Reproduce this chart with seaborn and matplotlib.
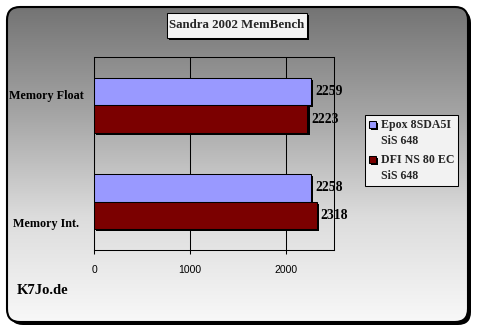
import numpy as np
import pandas as pd
import matplotlib
matplotlib.use("Agg")
import matplotlib.pyplot as plt
import seaborn as sns
from matplotlib.patches import FancyBboxPatch, Rectangle
from matplotlib.colors import LinearSegmentedColormap
from matplotlib.transforms import blended_transform_factory, offset_copy
from matplotlib.legend_handler import HandlerPatch
import matplotlib.patheffects as pe

# ---- data ----
categories = ["Memory Float", "Memory Int."]
series = ["Epox 8SDA5I\nSiS 648", "DFI NS 80 EC\nSiS 648"]
epox_values = [2259, 2258]
dfi_values = [2223, 2318]
x_ticks = [0, 1000, 2000]
title_text = "Sandra 2002 MemBench"
credit_text = "K7Jo.de"

# ---- style ----
colors = ["#9999FF", "#7B0000"]
label_dy = [9, -22]  # vertical pixel offsets of category labels

df = pd.DataFrame({
    "category": categories * 2,
    "system": [series[0]] * len(categories) + [series[1]] * len(categories),
    "value": epox_values + dfi_values,
})

sns.set_theme(style="white")
plt.rcParams["font.family"] = ["Liberation Serif", "DejaVu Serif"]

W, H = 478, 333
fig = plt.figure(figsize=(W / 100, H / 100), dpi=100)
fig.patch.set_facecolor("white")

# background frame with gradient
bg = fig.add_axes([0, 0, 1, 1])
bg.axis("off")
shadow = FancyBboxPatch((10, 10), 461, 315, boxstyle="round,pad=0,rounding_size=13",
                        fc="black", ec="none", zorder=0)
bg.add_patch(shadow)
box = FancyBboxPatch((7, 7), 461, 315, boxstyle="round,pad=0,rounding_size=13",
                     fc="none", ec="black", lw=1.5, zorder=3)
bg.add_patch(box)
cmap = LinearSegmentedColormap.from_list("g", ["#747474", "#a4a4a4", "#dcdcdc", "#f8f8f8"])
grad = np.linspace(0, 1, 256).reshape(-1, 1)
im = bg.imshow(grad, cmap=cmap, extent=[7, 468, 322, 7], aspect="auto", zorder=1,
               interpolation="bilinear")
im.set_clip_path(box)
bg.set_xlim(0, W)
bg.set_ylim(H, 0)

# title box
tb = Rectangle((167, 13), 140, 25, fc="#f4f4f4", ec="black", lw=0.75, zorder=4)
tb.set_path_effects([pe.SimplePatchShadow(offset=(1.5, -1.5), shadow_rgbFace="black", alpha=1), pe.Normal()])
bg.add_patch(tb)
bg.text(237, 25.5, title_text, ha="center", va="center", fontsize=9.3,
        fontweight="bold", zorder=5)

# main axes
ax = fig.add_axes([94 / W, (H - 250) / H, 240 / W, 193 / H])
ax.patch.set_alpha(0)
sns.barplot(data=df, y="category", x="value", hue="system", palette=colors,
            orient="h", width=0.57, edgecolor="black", linewidth=0.75, ax=ax,
            saturation=1)
handles, labels = ax.get_legend_handles_labels()
ax.get_legend().remove()

for patch in ax.patches:
    patch.set_path_effects([pe.SimplePatchShadow(offset=(1.6, -1.6), shadow_rgbFace="black", alpha=1),
                            pe.Normal()])

for cont in ax.containers:
    ax.bar_label(cont, padding=3, fontsize=9.8, fontweight="bold", color="black")

ax.set_xlim(0, 2500)
ax.set_xticks(x_ticks)
ax.set_xticklabels([str(t) for t in x_ticks], fontfamily="Liberation Sans", fontsize=7.5)
ax.tick_params(axis="x", bottom=True, length=3, width=0.75, color="black", pad=8, labelcolor="black")
ax.tick_params(axis="y", left=False, labelleft=False)
ax.set_xlabel("")
ax.set_ylabel("")
ax.set_axisbelow(True)
ax.xaxis.grid(True, color="black", lw=0.75)
for s in ax.spines.values():
    s.set_visible(True)
    s.set_color("black")
    s.set_linewidth(0.75)

# category labels
base = blended_transform_factory(fig.transFigure, ax.transData)
for i, cat in enumerate(categories):
    tr = offset_copy(base, fig=fig, x=0, y=label_dy[i], units="dots")
    ax.text(46 / W, i, cat, transform=tr, ha="center", va="center",
            fontsize=8.7, fontweight="bold", color="black")


def top_square(legend, orig_handle, xdescent, ydescent, width, height, fontsize):
    return Rectangle((-xdescent, -ydescent + 6.3), width, height)


leg = fig.legend(handles, labels, loc="upper left", bbox_to_anchor=(365 / W, 1 - 115 / H),
                 frameon=True, fancybox=False, edgecolor="black", facecolor="#f2f2f2",
                 framealpha=1, prop=dict(family="Liberation Serif", weight="bold", size=8.6),
                 handlelength=0.6, handleheight=0.6, handletextpad=0.45, borderpad=0.3,
                 labelspacing=0.55, borderaxespad=0,
                 handler_map={h: HandlerPatch(patch_func=top_square) for h in handles})
leg.get_frame().set_linewidth(0.75)
for t in leg.get_texts():
    t.set_linespacing(1.5)

fig.text(17 / W, 1 - 290 / H, credit_text, ha="left", va="center", fontsize=10.5,
         fontweight="bold", color="black")

fig.savefig("out.png", dpi=100)
